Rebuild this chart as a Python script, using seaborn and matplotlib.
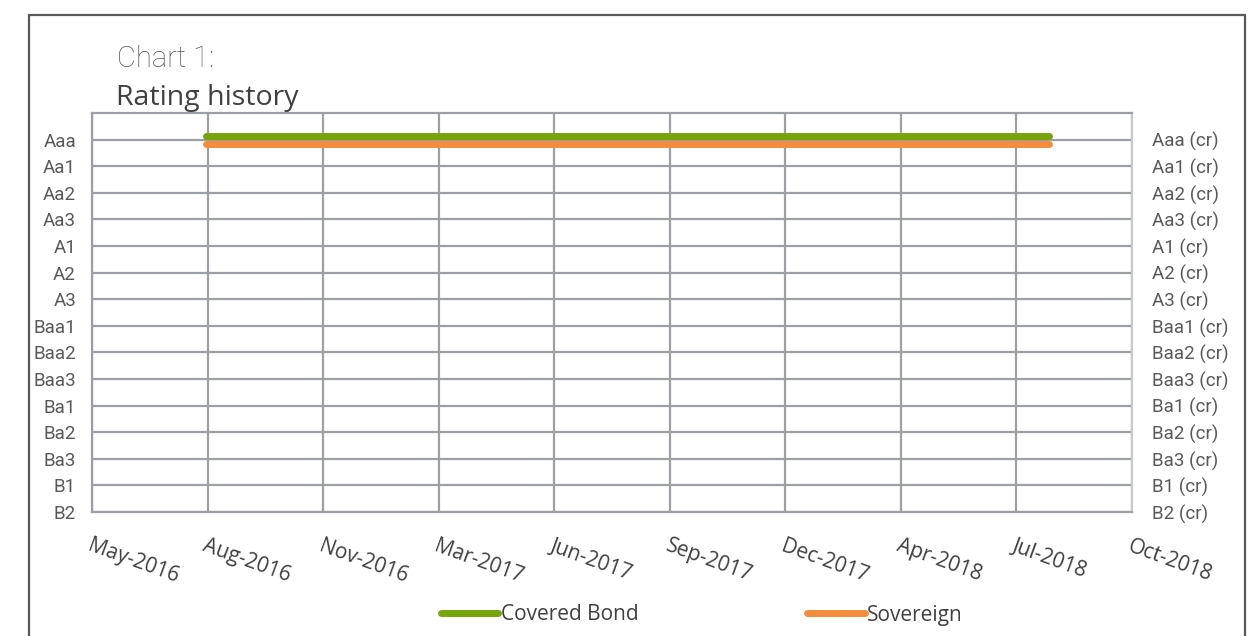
import matplotlib
matplotlib.use("Agg")
import matplotlib.pyplot as plt
import matplotlib.dates as mdates
from matplotlib.patches import Rectangle
from matplotlib.lines import Line2D
import seaborn as sns
import pandas as pd
import numpy as np

# ---- data ----
ratings = ["Aaa", "Aa1", "Aa2", "Aa3", "A1", "A2", "A3", "Baa1", "Baa2", "Baa3",
           "Ba1", "Ba2", "Ba3", "B1", "B2"]
ratings_cr = [r + " (cr)" for r in ratings]
series_names = ["Covered Bond", "Sovereign"]
cb_dates = ["2016-08-17", "2018-08-16"]
cb_ratings = ["Aaa", "Aaa"]
sov_dates = ["2016-08-17", "2018-08-16"]
sov_ratings = ["Aaa", "Aaa"]
tick_dates = ["2016-05-10", "2016-08-18", "2016-11-26", "2017-03-06", "2017-06-14",
              "2017-09-22", "2017-12-31", "2018-04-10", "2018-07-19", "2018-10-27"]

colors = {"Covered Bond": "#77A40C", "Sovereign": "#F58B3C"}
offsets = {"Covered Bond": -0.15, "Sovereign": 0.15}

rows = []
for name, ds, rs in [("Covered Bond", cb_dates, cb_ratings), ("Sovereign", sov_dates, sov_ratings)]:
    for d, r in zip(ds, rs):
        rows.append({"date": pd.Timestamp(d), "series": name,
                     "pos": ratings.index(r) + offsets[name]})
df = pd.DataFrame(rows)

sns.set_theme(style="white")
plt.rcParams["font.family"] = ["Roboto", "DejaVu Sans"]

fig = plt.figure(figsize=(12.5, 6.36), dpi=100)
ax = fig.add_axes([92 / 1250, 1 - 512 / 636, (1132 - 92) / 1250, (512 - 113) / 636])

sns.lineplot(data=df, x="date", y="pos", hue="series", palette=colors,
             linewidth=5, legend=False, ax=ax, zorder=5)
for ln in ax.get_lines():
    ln.set_solid_capstyle("round")

grid_c = "#9C9FA3"
ticks = [pd.Timestamp(t) for t in tick_dates]
ax.set_xlim(ticks[0], ticks[-1])
ax.set_xticks(ticks)
ax.xaxis.set_major_formatter(mdates.DateFormatter("%b-%Y"))
ax.set_ylim(len(ratings) - 1, -1)
ax.set_yticks(range(len(ratings)))
ax.set_yticklabels(ratings)
ax.set_xlabel("")
ax.set_ylabel("")

for t in ticks:
    ax.axvline(t, color=grid_c, lw=1.6, zorder=1)
for i in range(len(ratings)):
    ax.axhline(i, color=grid_c, lw=1.6, zorder=1)

for s in ["left", "bottom", "top"]:
    ax.spines[s].set_color(grid_c)
    ax.spines[s].set_linewidth(1.6)
ax.spines["right"].set_color("#C8CACC")
ax.spines["right"].set_linewidth(1.6)

ax.tick_params(axis="both", length=0)
ax.tick_params(axis="y", pad=11.5, labelsize=13.5, labelcolor="#595959")
ax.tick_params(axis="x", pad=17)
for lab in ax.get_xticklabels():
    lab.set_rotation(-20)
    lab.set_ha("left")
    lab.set_va("top")
    lab.set_rotation_mode("anchor")
    lab.set_fontsize(15)
    lab.set_color("#404040")
    lab.set_family(["Open Sans", "DejaVu Sans"])

ax2 = ax.twinx()
ax2.set_ylim(ax.get_ylim())
ax2.set_yticks(range(len(ratings)))
ax2.set_yticklabels(ratings_cr)
ax2.tick_params(axis="y", length=0, pad=14.5, labelsize=13.5, labelcolor="#595959")
for s in ax2.spines.values():
    s.set_visible(False)
ax2.grid(False)

# titles
fig.text(117 / 1250, 1 - 67 / 636, "Chart 1:", fontsize=21, color="#595959",
         fontweight="light", va="baseline")
fig.text(116 / 1250, 1 - 105 / 636, "Rating history", fontsize=20.5, color="#404040",
         va="baseline", family=["Open Sans", "DejaVu Sans"])

# legend
handles = [Line2D([0], [0], color=colors[n], lw=5, solid_capstyle="round") for n in series_names]
leg = fig.legend(handles, series_names, loc="center", bbox_to_anchor=(702 / 1250, 1 - 615 / 636),
                 ncol=2, frameon=False, handlelength=2.75, handletextpad=0.12,
                 columnspacing=8.1, borderpad=0, borderaxespad=0,
                 prop={"family": ["Open Sans", "DejaVu Sans"], "size": 15})
for t in leg.get_texts():
    t.set_color("#404040")

# outer border
fig.patches.append(Rectangle((29 / 1250, -0.02), (1245 - 29) / 1250, 1 - 15 / 636 + 0.02,
                             transform=fig.transFigure, fill=False, edgecolor="#595959",
                             linewidth=1.6, zorder=10))

fig.savefig("out.png", dpi=100)
